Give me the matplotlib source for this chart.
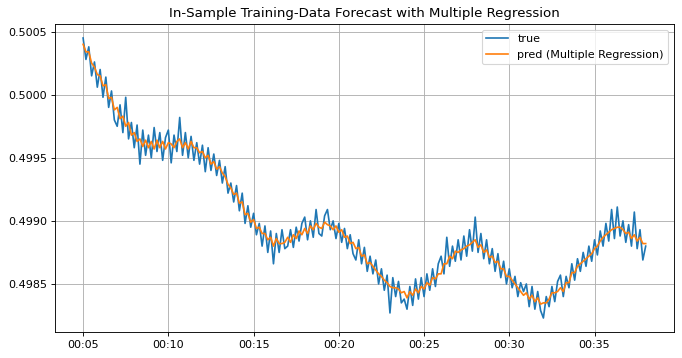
import pandas as pd
import matplotlib
matplotlib.use("Agg")
import matplotlib.pyplot as plt
import matplotlib.dates as mdates
from matplotlib.ticker import FormatStrFormatter

# 10-second samples starting at 00:05
start = "2000-01-01 00:05:00"
step = "10s"

true_vals = [
    0.50045, 0.50028, 0.50038, 0.50015, 0.50026, 0.50006,
    0.50020, 0.49998, 0.50014, 0.49990, 0.50003, 0.49980,
    0.49975, 0.49992, 0.49970, 0.49998, 0.49965, 0.49978,
    0.49958, 0.49976, 0.49945, 0.49972, 0.49952, 0.49968,
    0.49950, 0.49974, 0.49955, 0.49970, 0.49948, 0.49966,
    0.49972, 0.49946, 0.49968, 0.49955, 0.49982, 0.49952,
    0.49970, 0.49950, 0.49967, 0.49948, 0.49962, 0.49945,
    0.49960, 0.49939, 0.49958, 0.49940, 0.49953, 0.49936,
    0.49948, 0.49930, 0.49943, 0.49922, 0.49930, 0.49915,
    0.49928, 0.49908, 0.49922, 0.49898, 0.49912, 0.49895,
    0.49906, 0.49889, 0.49898, 0.49880, 0.49896, 0.49875,
    0.49892, 0.49866, 0.49890, 0.49875, 0.49893, 0.49878,
    0.49880, 0.49893, 0.49879, 0.49895, 0.49884, 0.49898,
    0.49903, 0.49885, 0.49900, 0.49887, 0.49909, 0.49890,
    0.49888, 0.49904, 0.49909, 0.49893, 0.49900, 0.49886,
    0.49898, 0.49883, 0.49894, 0.49878, 0.49889, 0.49874,
    0.49869, 0.49885, 0.49866, 0.49879, 0.49860, 0.49872,
    0.49858, 0.49869, 0.49850, 0.49862, 0.49845, 0.49857,
    0.49827, 0.49855, 0.49840, 0.49852, 0.49835, 0.49838,
    0.49830, 0.49848, 0.49833, 0.49854, 0.49838, 0.49855,
    0.49840, 0.49858, 0.49845, 0.49862, 0.49848, 0.49866,
    0.49872, 0.49858, 0.49887, 0.49864, 0.49880, 0.49868,
    0.49885, 0.49869, 0.49888, 0.49872, 0.49893, 0.49876,
    0.49903, 0.49875, 0.49890, 0.49870, 0.49885, 0.49866,
    0.49878, 0.49860, 0.49874, 0.49855, 0.49868, 0.49850,
    0.49862, 0.49847, 0.49856, 0.49840, 0.49851, 0.49844,
    0.49850, 0.49832, 0.49848, 0.49830, 0.49844, 0.49829,
    0.49823, 0.49840, 0.49832, 0.49848, 0.49836, 0.49852,
    0.49857, 0.49840, 0.49856, 0.49847, 0.49866, 0.49853,
    0.49870, 0.49860, 0.49875, 0.49864, 0.49880, 0.49868,
    0.49885, 0.49873, 0.49892, 0.49880, 0.49898, 0.49884,
    0.49909, 0.49886, 0.49911, 0.49888, 0.49900, 0.49883,
    0.49897, 0.49880, 0.49907, 0.49878, 0.49893, 0.49869,
    0.49880,
]

pred_vals = [
    0.50040, 0.50034, 0.50034, 0.50025, 0.50022, 0.50016,
    0.50015, 0.50007, 0.50008, 0.49997, 0.49998, 0.49988,
    0.49990, 0.49981, 0.49983, 0.49975, 0.49978, 0.49968,
    0.49970, 0.49963, 0.49965, 0.49959, 0.49964, 0.49958,
    0.49963, 0.49957, 0.49964, 0.49958, 0.49963, 0.49957,
    0.49962, 0.49961, 0.49958, 0.49963, 0.49965, 0.49958,
    0.49962, 0.49957, 0.49963, 0.49958, 0.49958, 0.49954,
    0.49955, 0.49950, 0.49952, 0.49945, 0.49947, 0.49941,
    0.49943, 0.49938, 0.49935, 0.49929, 0.49926, 0.49921,
    0.49922, 0.49914, 0.49915, 0.49905, 0.49906, 0.49899,
    0.49901, 0.49894, 0.49895, 0.49890, 0.49890, 0.49885,
    0.49887, 0.49880, 0.49886, 0.49882, 0.49882, 0.49883,
    0.49887, 0.49883, 0.49889, 0.49886, 0.49892, 0.49889,
    0.49894, 0.49890, 0.49896, 0.49893, 0.49898, 0.49895,
    0.49894, 0.49899, 0.49897, 0.49896, 0.49893, 0.49896,
    0.49891, 0.49893, 0.49887, 0.49888, 0.49882, 0.49883,
    0.49878, 0.49879, 0.49872, 0.49873, 0.49866, 0.49867,
    0.49864, 0.49861, 0.49858, 0.49856, 0.49853, 0.49851,
    0.49848, 0.49847, 0.49847, 0.49846, 0.49843, 0.49844,
    0.49839, 0.49844, 0.49841, 0.49846, 0.49843, 0.49848,
    0.49846, 0.49851, 0.49849, 0.49855, 0.49854, 0.49858,
    0.49858, 0.49866, 0.49866, 0.49872, 0.49870, 0.49876,
    0.49875, 0.49877, 0.49878, 0.49880, 0.49881, 0.49883,
    0.49885, 0.49879, 0.49881, 0.49875, 0.49877, 0.49871,
    0.49872, 0.49867, 0.49868, 0.49862, 0.49862, 0.49856,
    0.49856, 0.49853, 0.49850, 0.49847, 0.49844, 0.49841,
    0.49843, 0.49838, 0.49841, 0.49836, 0.49839, 0.49834,
    0.49835, 0.49835, 0.49838, 0.49843, 0.49843, 0.49844,
    0.49847, 0.49844, 0.49851, 0.49851, 0.49859, 0.49859,
    0.49864, 0.49866, 0.49868, 0.49870, 0.49872, 0.49874,
    0.49878, 0.49880, 0.49884, 0.49887, 0.49889, 0.49891,
    0.49893, 0.49894, 0.49895, 0.49895, 0.49893, 0.49890,
    0.49891, 0.49886, 0.49889, 0.49884, 0.49887, 0.49882,
    0.49882,
]

times = pd.date_range(start, periods=len(true_vals), freq=step)

fig = plt.figure(figsize=(8.525, 4.475), dpi=80)
ax = fig.add_axes([0.0806, 0.0726, 0.9074, 0.8604])

ax.plot(times, true_vals, label="true")
ax.plot(times, pred_vals, label="pred (Multiple Regression)")

ax.set_title("In-Sample Training-Data Forecast with Multiple Regression")
ax.xaxis.set_major_locator(mdates.MinuteLocator(byminute=range(0, 60, 5)))
ax.xaxis.set_major_formatter(mdates.DateFormatter("%H:%M"))
ax.yaxis.set_major_formatter(FormatStrFormatter("%.4f"))
ax.grid(True)
ax.legend(loc="upper right")

fig.savefig("out.png", dpi=80)
